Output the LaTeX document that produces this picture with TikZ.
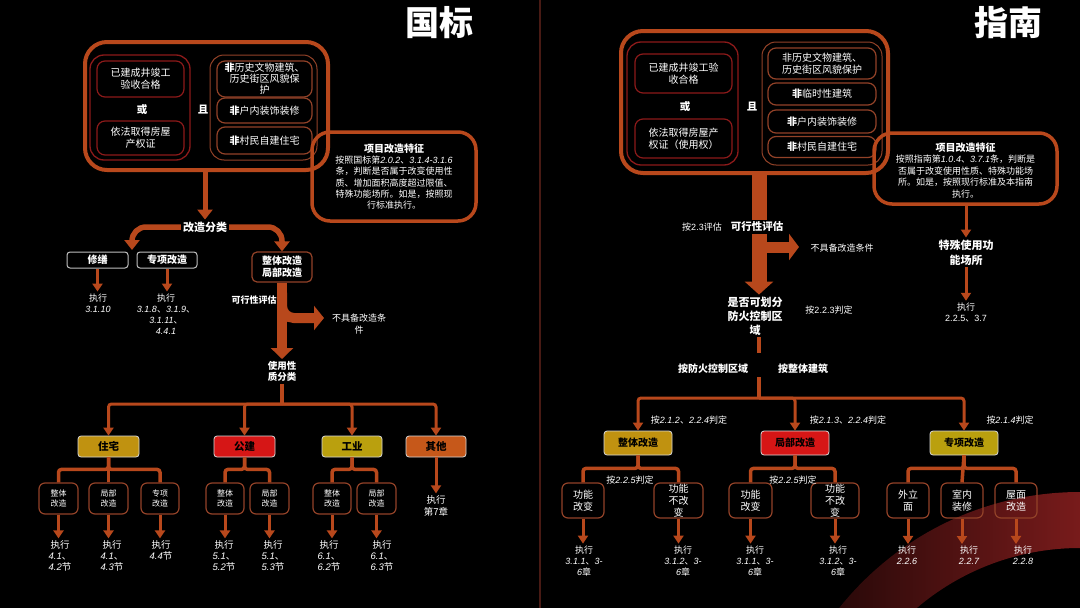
\documentclass[tikz,border=0pt]{standalone}
\usepackage{fontspec}
\setmainfont{Noto Sans CJK SC}[AutoFakeSlant=0.2]
\newfontfamily\numfont{Liberation Sans}
\newcommand{\nm}[1]{{\numfont\itshape #1}}
\newcommand{\nup}[1]{{\numfont #1}}
\newcommand{\fsz}[1]{\fontsize{#1}{1.2\dimexpr#1pt\relax}\selectfont}
\usetikzlibrary{arrows.meta, positioning}

\definecolor{rust}{RGB}{184,72,28}
\definecolor{wine}{RGB}{140,26,26}
\definecolor{clay}{RGB}{146,66,40}
\definecolor{gold}{RGB}{192,146,16}
\definecolor{scarlet}{RGB}{214,22,22}
\definecolor{olive}{RGB}{186,160,14}
\definecolor{amber}{RGB}{198,88,26}
\definecolor{divider}{RGB}{72,26,20}
\definecolor{ringdark}{RGB}{20,4,4}
\definecolor{ringred}{RGB}{220,50,50}

\tikzset{
    every node/.style={text=white, align=center, inner sep=2pt}, % white text everywhere
    outerbox/.style={draw=rust, line width=4pt, rounded corners=22pt},
    groupred/.style={draw=wine, line width=1.3pt, rounded corners=14pt},
    groupclay/.style={draw=clay, line width=1pt, rounded corners=14pt},
    cond/.style={draw=wine, line width=1.2pt, rounded corners=8pt, font=\fsz{10}},
    condclay/.style={cond, draw=clay},
    featbox/.style={draw=rust, line width=3.5pt, rounded corners=18pt},
    label/.style={font=\fsz{11}\bfseries},
    note/.style={font=\fsz{9}},
    tagbox/.style={draw=white!75!black, line width=1pt, rounded corners=3pt, font=\fsz{10}\bfseries, inner sep=0pt},
    cat/.style={draw=white!85!black, line width=0.8pt, rounded corners=3pt, text=black, font=\fsz{10.5}\bfseries, minimum height=21pt, inner sep=0pt},
    subbox/.style={draw=clay, line width=1.2pt, rounded corners=6pt, minimum height=31pt, inner sep=0pt},
    bus/.style={draw=rust, line width=3.5pt},
    flow/.style={draw=rust, line width=3pt, -{Triangle[width=10pt,length=8pt]}},
}

\begin{document}
\begin{tikzpicture}[x=1pt, y=-1pt]
    \useasboundingbox (0,0) rectangle (1080,608);
    \fill[black] (0,0) rectangle (1080,608);
    % ring in the corner
    \begin{scope}
        \clip (0,0) rectangle (1080,608);
        \fill[even odd rule, left color=ringdark, right color=ringred]
            (1080,800) circle[radius=308] (1080,800) circle[radius=252];
    \end{scope}
    \draw[divider, line width=1.5pt] (540,0) -- (540,608);

    % ===== 国标 =====
    \node[font=\fsz{34}\bfseries] (gbTitle) at (439,23) {国标};

    \node[outerbox, minimum width=243pt, minimum height=128pt] (gbBox) at (206.5,106) {};
    \node[groupred, minimum width=100pt, minimum height=105pt] (gbOrBox) at (140,107.5) {};
    \node[cond, minimum width=87pt, minimum height=36pt] (gbDone) at (140.5,79) {已建成井竣工\\验收合格};
    \node[label, font=\fsz{10.5}\bfseries] (gbOr) at (142,110) {或};
    \node[cond, minimum width=87pt, minimum height=34pt] (gbProp) at (140.5,138) {依法取得房屋\\产权证};
    \node[label, font=\fsz{10.5}\bfseries] (gbAnd) at (203,110) {且};
    \node[groupclay, minimum width=107pt, minimum height=105pt] (gbNotBox) at (263.5,107.5) {};
    \node[condclay, minimum width=95pt, minimum height=36pt, font=\fontsize{10}{11}\selectfont] (gbNot1) at (264.5,79)
        {\textbf{非}历史文物建筑、\\历史街区风貌保\\护};
    \node[condclay, minimum width=95pt, minimum height=25pt] (gbNot2) at (264.5,110.5) {\textbf{非}户内装饰装修};
    \node[condclay, minimum width=95pt, minimum height=27pt] (gbNot3) at (264.5,140.5) {\textbf{非}村民自建住宅};

    \node[featbox, minimum width=164pt, minimum height=89pt] (gbFeat) at (394,176.5) {};
    \node[font=\fontsize{9}{11.3}\selectfont] (gbFeatText) at (gbFeat) {\textbf{\fsz{10}项目改造特征}\\
        按照国标第\nm{2.0.2}、\nm{3.1.4-3.1.6}\\条，判断是否属于改变使用性\\质、增加面积高度超过限值、\\
        特殊功能场所。如是，按照现\\行标准执行。};

    \node[label] (gbCls) at (205,227) {改造分类};
    \node[tagbox, minimum width=61pt, minimum height=16pt] (gbRepair) at (97.5,260) {修缮};
    \node[tagbox, minimum width=60pt, minimum height=16pt] (gbSpecial) at (167,260) {专项改造};
    \node[draw=clay, line width=1.2pt, rounded corners=5pt, minimum width=60pt, minimum height=30pt,
        inner sep=0pt, font=\fontsize{10}{12}\selectfont\bfseries] (gbWhole) at (282,267) {整体改造\\局部改造};
    \coordinate (gbSplit) at (132,250);

    \node[note] (gbRepairRef) at (98,303) {执行\\\nm{3.1.10}};
    \node[note, font=\fontsize{9}{11}\selectfont] (gbSpecialRef) at (166,314)
        {执行\\\nm{3.1.8}、\nm{3.1.9}、\\\nm{3.1.11}、\\\nm{4.4.1}};

    \node[label, font=\fsz{9}\bfseries] (gbFeas) at (254,300) {可行性评估};
    \node[note, font=\fontsize{9}{11.5}\selectfont] (gbNoCond) at (359,324) {不具备改造条\\件};
    \coordinate (gbBranch) at (324,318);
    \node[label, font=\fontsize{9.5}{11.5}\selectfont\bfseries] (gbUse) at (282,371.5) {使用性\\质分类};
    \coordinate (gbBus) at (282,404);

    \node[cat, fill=gold, minimum width=61pt] (gbHouse) at (108.5,446.5) {住宅};
    \node[cat, fill=scarlet, minimum width=61pt] (gbPublic) at (244.5,446.5) {公建};
    \node[cat, fill=olive, minimum width=60pt] (gbIndus) at (352,446.5) {工业};
    \node[cat, fill=amber, minimum width=60pt] (gbOther) at (436,446.5) {其他};
    \node[note, font=\fontsize{9.5}{12}\selectfont] (gbOtherRef) at (436,506) {执行\\第7章};

    \node[subbox, minimum width=39pt, font=\fontsize{8}{10}\selectfont] (gbH1) at (58.5,498.5) {整体\\改造};
    \node[subbox, minimum width=39pt, font=\fontsize{8}{10}\selectfont] (gbH2) at (108.5,498.5) {局部\\改造};
    \node[subbox, minimum width=38pt, font=\fontsize{8}{10}\selectfont] (gbH3) at (160,498.5) {专项\\改造};
    \node[subbox, minimum width=38pt, font=\fontsize{8}{10}\selectfont] (gbP1) at (225,498.5) {整体\\改造};
    \node[subbox, minimum width=39pt, font=\fontsize{8}{10}\selectfont] (gbP2) at (269.5,498.5) {局部\\改造};
    \node[subbox, minimum width=38pt, font=\fontsize{8}{10}\selectfont] (gbI1) at (332,498.5) {整体\\改造};
    \node[subbox, minimum width=39pt, font=\fontsize{8}{10}\selectfont] (gbI2) at (376.5,498.5) {局部\\改造};

    \node[note, font=\fontsize{9.5}{11}\selectfont] (gbH1Ref) at (60,556) {执行\\\nm{4.1}、\\\nm{4.2}节};
    \node[note, font=\fontsize{9.5}{11}\selectfont] (gbH2Ref) at (112,556) {执行\\\nm{4.1}、\\\nm{4.3}节};
    \node[note, font=\fontsize{9.5}{11}\selectfont] (gbH3Ref) at (161,550.5) {执行\\\nm{4.4}节};
    \node[note, font=\fontsize{9.5}{11}\selectfont] (gbP1Ref) at (224,556) {执行\\\nm{5.1}、\\\nm{5.2}节};
    \node[note, font=\fontsize{9.5}{11}\selectfont] (gbP2Ref) at (273,556) {执行\\\nm{5.1}、\\\nm{5.3}节};
    \node[note, font=\fontsize{9.5}{11}\selectfont] (gbI1Ref) at (329,556) {执行\\\nm{6.1}、\\\nm{6.2}节};
    \node[note, font=\fontsize{9.5}{11}\selectfont] (gbI2Ref) at (382,556) {执行\\\nm{6.1}、\\\nm{6.3}节};

    % connectors 国标
    \draw[rust, line width=5pt, -{Triangle[width=15pt,length=10pt]}] (gbBox.south -| gbCls) -- (gbCls.north);
    \draw[rust, line width=5.5pt, rounded corners=14pt, -{Triangle[width=15pt,length=10pt]}] (gbCls.west) -| (gbSplit);
    \draw[rust, line width=5.5pt, rounded corners=14pt, -{Triangle[width=15pt,length=10pt]}] (gbCls.east) -| (gbWhole.north);
    \draw[flow] (gbRepair.south) -- (gbRepair.south |- gbRepairRef.north);
    \draw[flow] (gbSpecial.south) -- (gbSpecial.south |- gbSpecialRef.north);
    \draw[rust, line width=10pt, rounded corners=12pt, -{Triangle[width=24pt,length=10pt]}] (gbWhole.south) ++(0,10) |- (gbBranch);
    \draw[rust, line width=10pt, -{Triangle[width=22pt,length=11pt]}] (gbWhole.south) -- (gbUse.north);
    \draw[bus] (gbUse.south) -- (gbBus);
    \draw[flow, rounded corners=3pt] (gbBus) -| (gbHouse.north);
    \draw[flow, rounded corners=3pt] (gbBus) -| (gbPublic.north);
    \draw[flow, rounded corners=3pt] (gbBus) -| (gbIndus.north);
    \draw[flow, rounded corners=3pt] (gbBus) -| (gbOther.north);
    \draw[flow] (gbOther.south) -- (gbOtherRef.north);
    \draw[bus, rounded corners=3pt] (gbHouse.south) -- ++(0,12) -| (gbH1.north);
    \draw[bus, rounded corners=3pt] (gbHouse.south) -- ++(0,12) -| (gbH3.north);
    \draw[bus] (gbHouse.south) -- (gbH2.north);
    \draw[bus, rounded corners=3pt] (gbPublic.south) -- ++(0,12) -| (gbP1.north);
    \draw[bus, rounded corners=3pt] (gbPublic.south) -- ++(0,12) -| (gbP2.north);
    \draw[bus, rounded corners=3pt] (gbIndus.south) -- ++(0,12) -| (gbI1.north);
    \draw[bus, rounded corners=3pt] (gbIndus.south) -- ++(0,12) -| (gbI2.north);
    \draw[flow] (gbH1.south) -- (gbH1.south |- gbH1Ref.north);
    \draw[flow] (gbH2.south) -- (gbH2.south |- gbH2Ref.north);
    \draw[flow] (gbH3.south) -- (gbH3.south |- gbH3Ref.north);
    \draw[flow] (gbP1.south) -- (gbP1.south |- gbP1Ref.north);
    \draw[flow] (gbP2.south) -- (gbP2.south |- gbP2Ref.north);
    \draw[flow] (gbI1.south) -- (gbI1.south |- gbI1Ref.north);
    \draw[flow] (gbI2.south) -- (gbI2.south |- gbI2Ref.north);

    % ===== 指南 =====
    \node[font=\fsz{34}\bfseries] (zhTitle) at (1008,23) {指南};

    \node[outerbox, minimum width=267pt, minimum height=142pt] (zhBox) at (754.5,102) {};
    \node[groupred, minimum width=111pt, minimum height=123pt] (zhOrBox) at (682.5,103.5) {};
    \node[cond, minimum width=97pt, minimum height=39pt] (zhDone) at (683.5,73.5) {已建成井竣工验\\收合格};
    \node[label, font=\fsz{10.5}\bfseries] (zhOr) at (685,107) {或};
    \node[cond, minimum width=97pt, minimum height=39pt] (zhProp) at (683.5,138.5) {依法取得房屋产\\权证（使用权）};
    \node[label, font=\fsz{10.5}\bfseries] (zhAnd) at (752,107) {且};
    \node[groupclay, minimum width=120pt, minimum height=123pt] (zhNotBox) at (822,103.5) {};
    \node[condclay, minimum width=108pt, minimum height=31pt, font=\fontsize{10}{12}\selectfont] (zhNot1) at (822,63.5)
        {非历史文物建筑、\\历史街区风貌保护};
    \node[condclay, minimum width=108pt, minimum height=22pt] (zhNot2) at (822,94) {\textbf{非}临时性建筑};
    \node[condclay, minimum width=108pt, minimum height=23pt] (zhNot3) at (822,121.5) {\textbf{非}户内装饰装修};
    \node[condclay, minimum width=108pt, minimum height=21pt] (zhNot4) at (822,147) {\textbf{非}村民自建住宅};

    \node[featbox, minimum width=183pt, minimum height=71pt] (zhFeat) at (965.5,168.5) {};
    \node[font=\fontsize{9}{11.5}\selectfont] (zhFeatText) at (965.5,170.5) {\textbf{\fsz{10}项目改造特征}\\
        按照指南第\nm{1.0.4}、\nm{3.7.1}条，判断是\\否属于改变使用性质、特殊功能场\\所。如是，按照现行标准及本指南\\执行。};
    \node[label, font=\fontsize{11}{15}\selectfont\bfseries] (zhSpecialUse) at (966,252.5) {特殊使用功\\能场所};
    \node[note, font=\fontsize{9}{11}\selectfont] (zhSpecialRef) at (966,312.5) {执行\\\nup{2.2.5}、\nup{3.7}};

    \node[note] (zhEval) at (702,227) {按\nup{2.3}评估};
    \node[note] (zhNoCond) at (842,248) {不具备改造条件};
    \coordinate (zhBranch) at (799,247);
    \node[label, font=\fontsize{11}{14}\selectfont\bfseries] (zhZone) at (755,316) {是否可划分\\防火控制区\\域};
    \node[note] (zhJudge) at (829,310) {按\nup{2.2.3}判定};
    \coordinate (zhGapTop) at (759,353);
    \coordinate (zhGapBot) at (759,377);
    \node[label, font=\fsz{10}\bfseries] (zhByZone) at (713,369) {按防火控制区域};
    \node[label, font=\fsz{10}\bfseries] (zhByAll) at (803,369) {按整体建筑};
    \coordinate (zhBus) at (759,398);

    \node[note] (zhWholeRule) at (689,420) {按\nm{2.1.2}、\nm{2.2.4}判定};
    \node[note] (zhPartRule) at (848,420) {按\nm{2.1.3}、\nm{2.2.4}判定};
    \node[note] (zhSpecRule) at (1010,420) {按\nm{2.1.4}判定};
    \node[cat, fill=gold, minimum width=68pt, minimum height=24pt, font=\fsz{10}\bfseries] (zhWhole) at (638,443) {整体改造};
    \node[cat, fill=scarlet, minimum width=68pt, minimum height=24pt, font=\fsz{10}\bfseries] (zhPart) at (795,443) {局部改造};
    \node[cat, fill=olive, minimum width=68pt, minimum height=24pt, font=\fsz{10}\bfseries] (zhSpec) at (964,443) {专项改造};

    \node[subbox, minimum width=42pt, minimum height=35pt, font=\fontsize{10}{12}\selectfont] (zhW1) at (583,500.5) {功能\\改变};
    \node[subbox, minimum width=49pt, minimum height=35pt, font=\fontsize{10}{12}\selectfont] (zhW2) at (678.5,500.5) {功能\\不改\\变};
    \node[subbox, minimum width=43pt, minimum height=35pt, font=\fontsize{10}{12}\selectfont] (zhP1) at (750.5,500.5) {功能\\改变};
    \node[subbox, minimum width=48pt, minimum height=35pt, font=\fontsize{10}{12}\selectfont] (zhP2) at (835,500.5) {功能\\不改\\变};
    \node[subbox, minimum width=42pt, minimum height=35pt, font=\fontsize{10}{12}\selectfont] (zhS1) at (908,500.5) {外立\\面};
    \node[subbox, minimum width=42pt, minimum height=35pt, font=\fontsize{10}{12}\selectfont] (zhS2) at (962,500.5) {室内\\装修};
    \node[subbox, minimum width=42pt, minimum height=35pt, font=\fontsize{10}{12}\selectfont] (zhS3) at (1016,500.5) {屋面\\改造};
    \node[note] (zhWholeSub) at (630,480) {按\nm{2.2.5}判定};
    \node[note] (zhPartSub) at (793,480) {按\nm{2.2.5}判定};

    \node[note, font=\fontsize{9}{11}\selectfont] (zhW1Ref) at (584,561) {执行\\\nm{3.1.1}、\nm{3-}\\\nm{6}章};
    \node[note, font=\fontsize{9}{11}\selectfont] (zhW2Ref) at (683,561) {执行\\\nm{3.1.2}、\nm{3-}\\\nm{6}章};
    \node[note, font=\fontsize{9}{11}\selectfont] (zhP1Ref) at (755,561) {执行\\\nm{3.1.1}、\nm{3-}\\\nm{6}章};
    \node[note, font=\fontsize{9}{11}\selectfont] (zhP2Ref) at (838,561) {执行\\\nm{3.1.2}、\nm{3-}\\\nm{6}章};
    \node[note, font=\fontsize{9}{11}\selectfont] (zhS1Ref) at (907,555.5) {执行\\\nm{2.2.6}};
    \node[note, font=\fontsize{9}{11}\selectfont] (zhS2Ref) at (969,555.5) {执行\\\nm{2.2.7}};
    \node[note, font=\fontsize{9}{11}\selectfont] (zhS3Ref) at (1023,555.5) {执行\\\nm{2.2.8}};

    % connectors 指南
    \draw[flow] (zhFeat.south -| zhSpecialUse) -- (zhSpecialUse.north);
    \draw[flow] (zhSpecialUse.south) -- (zhSpecialRef.north);
    \draw[rust, line width=11pt, -{Triangle[width=26pt,length=10pt]}] (zhGapTop |- zhBranch) -- (zhBranch);
    \draw[rust, line width=15pt, -{Triangle[width=28pt,length=13pt]}] (zhBox.south -| zhGapTop) -- (zhZone.north -| zhGapTop);
    \node[label, font=\fsz{10.5}\bfseries, fill=black] (zhFeas) at (757,227) {可行性评估};
    \draw[rust, line width=4pt] (zhZone.south -| zhGapTop) -- (zhGapTop);
    \draw[bus] (zhGapBot) -- (zhBus);
    \draw[flow, rounded corners=3pt] (zhBus) -| (zhWhole.north);
    \draw[flow, rounded corners=3pt] (zhBus) -| (zhPart.north);
    \draw[flow, rounded corners=3pt] (zhBus) -| (zhSpec.north);
    \draw[bus, rounded corners=3pt] (zhWhole.south) -- ++(0,13) -| (zhW1.north);
    \draw[bus, rounded corners=3pt] (zhWhole.south) -- ++(0,13) -| (zhW2.north);
    \draw[bus, rounded corners=3pt] (zhPart.south) -- ++(0,13) -| (zhP1.north);
    \draw[bus, rounded corners=3pt] (zhPart.south) -- ++(0,13) -| (zhP2.north);
    \draw[bus, rounded corners=3pt] (zhSpec.south) -- ++(0,13) -| (zhS1.north);
    \draw[bus, rounded corners=3pt] (zhSpec.south) -- ++(0,13) -| (zhS3.north);
    \draw[bus] (zhSpec.south) -- (zhS2.north);
    \draw[flow] (zhW1.south) -- (zhW1.south |- zhW1Ref.north);
    \draw[flow] (zhW2.south) -- (zhW2.south |- zhW2Ref.north);
    \draw[flow] (zhP1.south) -- (zhP1.south |- zhP1Ref.north);
    \draw[flow] (zhP2.south) -- (zhP2.south |- zhP2Ref.north);
    \draw[flow] (zhS1.south) -- (zhS1.south |- zhS1Ref.north);
    \draw[flow] (zhS2.south) -- (zhS2.south |- zhS2Ref.north);
    \draw[flow] (zhS3.south) -- (zhS3.south |- zhS3Ref.north);
\end{tikzpicture}
\end{document}
